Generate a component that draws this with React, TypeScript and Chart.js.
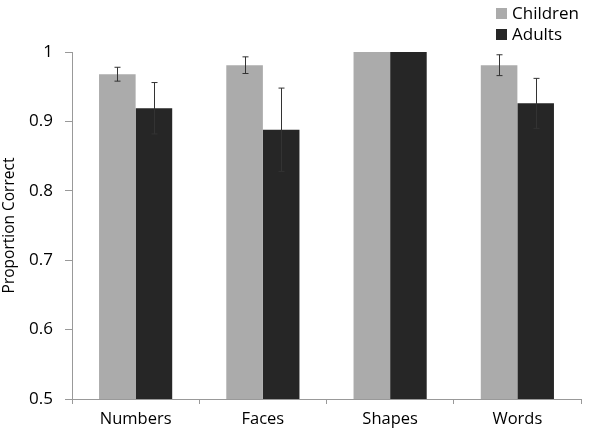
import React, { useEffect, useRef } from "react";
import { Chart, registerables } from "chart.js";

Chart.register(...registerables);

const categories = ["Numbers", "Faces", "Shapes", "Words"];
const childrenValues = [0.968, 0.981, 1.0, 0.981];
const childrenErrors = [0.01, 0.012, 0, 0.015];
const adultsValues = [0.919, 0.888, 1.0, 0.926];
const adultsErrors = [0.037, 0.06, 0, 0.036];
const yTicks = [0.5, 0.6, 0.7, 0.8, 0.9, 1];
const seriesNames = ["Children", "Adults"];
const seriesColors = ["#ababab", "#262626"];

const FONT = "'Open Sans', 'Liberation Sans', sans-serif";

const errorBarPlugin = {
  id: "errorBars",
  afterDatasetsDraw(chart: any) {
    const ctx = chart.ctx;
    const y = chart.scales.y;
    const errs = [childrenErrors, adultsErrors];
    ctx.save();
    ctx.strokeStyle = "#333333";
    ctx.lineWidth = 1;
    chart.data.datasets.forEach((ds: any, di: number) => {
      const meta = chart.getDatasetMeta(di);
      meta.data.forEach((bar: any, i: number) => {
        const e = errs[di][i];
        if (!e) return;
        const v = ds.data[i];
        const x = Math.round(bar.x) + 0.5;
        const top = y.getPixelForValue(v + e);
        const bot = y.getPixelForValue(v - e);
        ctx.beginPath();
        ctx.moveTo(x, top);
        ctx.lineTo(x, bot);
        ctx.moveTo(x - 3, top);
        ctx.lineTo(x + 3, top);
        ctx.moveTo(x - 3, bot);
        ctx.lineTo(x + 3, bot);
        ctx.stroke();
      });
    });
    ctx.restore();
  },
};

export default function App() {
  const ref = useRef<HTMLCanvasElement>(null);
  useEffect(() => {
    document.body.style.margin = "0";
    const chart = new Chart(ref.current!, {
      type: "bar",
      data: {
        labels: categories,
        datasets: [
          {
            label: seriesNames[0],
            data: childrenValues,
            backgroundColor: seriesColors[0],
            categoryPercentage: 0.575,
            barPercentage: 1,
          },
          {
            label: seriesNames[1],
            data: adultsValues,
            backgroundColor: seriesColors[1],
            categoryPercentage: 0.575,
            barPercentage: 1,
          },
        ],
      },
      options: {
        animation: false,
        responsive: false,
        layout: { padding: { top: 52, right: 19, left: 0, bottom: 0 } },
        plugins: { legend: { display: false }, tooltip: { enabled: false } },
        scales: {
          x: {
            grid: {
              offset: true,
              drawOnChartArea: false,
              drawTicks: true,
              tickLength: 5,
              color: "#999999",
            },
            border: { color: "#999999" },
            ticks: {
              color: "#000000",
              font: { family: FONT, size: 16.5 },
              padding: 5,
            },
            afterFit(scale: any) {
              scale.height = 38;
            },
          },
          y: {
            min: 0.5,
            max: 1,
            afterBuildTicks(scale: any) {
              scale.ticks = yTicks.map((v) => ({ value: v }));
            },
            grid: {
              drawOnChartArea: false,
              drawTicks: true,
              tickLength: 7,
              color: "#999999",
            },
            border: { color: "#999999" },
            ticks: {
              color: "#000000",
              font: { family: FONT, size: 17 },
              padding: 12,
              callback: (v: any) => String(Number(v)),
            },
            title: {
              display: true,
              text: "Proportion Correct",
              color: "#000000",
              font: { family: FONT, size: 15.5 },
              padding: { top: 0, bottom: 2 },
            },
            afterFit(scale: any) {
              scale.width = 72;
            },
          },
        },
      },
      plugins: [errorBarPlugin],
    });
    return () => chart.destroy();
  }, []);

  const legendItem = (i: number, top: number) => (
    <div
      key={i}
      style={{
        position: "absolute",
        left: 496,
        top,
        display: "flex",
        alignItems: "center",
        fontFamily: FONT,
        fontSize: 17,
        color: "#000",
        lineHeight: "20px",
      }}
    >
      <span
        style={{
          display: "inline-block",
          width: 11,
          height: 11,
          background: seriesColors[i],
          marginRight: 5,
        }}
      />
      {seriesNames[i]}
    </div>
  );

  return (
    <div style={{ position: "relative", width: 600, height: 437 }}>
      <canvas ref={ref} width={600} height={437} style={{ display: "block" }} />
      {legendItem(0, 3)}
      {legendItem(1, 24)}
    </div>
  );
}
